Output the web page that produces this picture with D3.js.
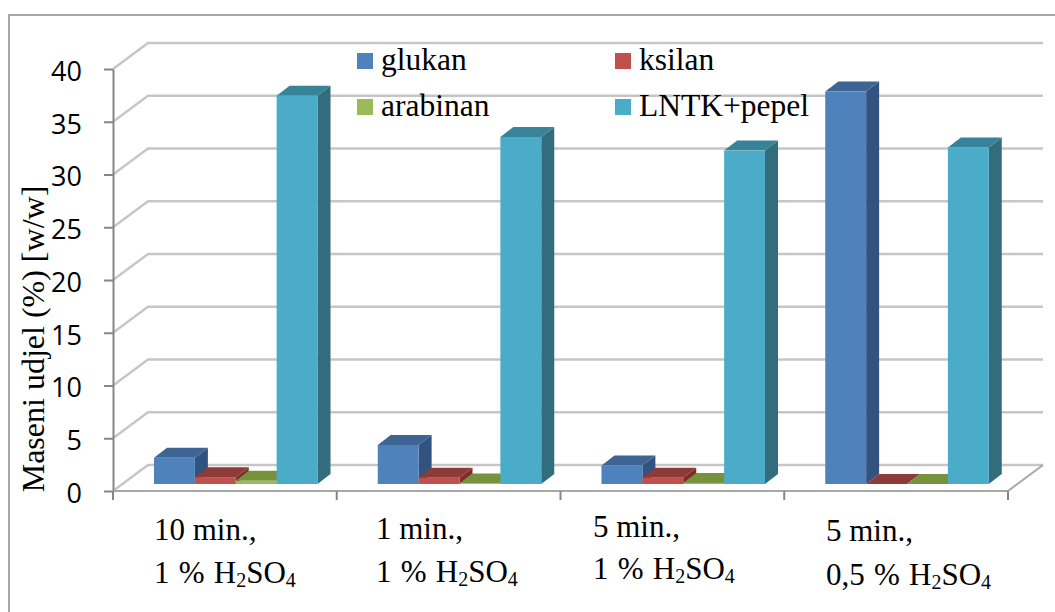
<!DOCTYPE html>
<html>

<head>
    <title>Maseni udjel</title>
    <script src="https://d3js.org/d3.v7.min.js" charset="utf-8"></script>
    <style>
        html, body { margin: 0; padding: 0; background: #fff; }
        svg { display: block; }
    </style>
</head>

<body>
    <script>
        var w = 1055;
        var h = 612;

        var categories = ["10 min.", "1 min.", "5 min. ", "5 min.  "];
        var acidLabels = ["1 % ", "1 % ", "1 % ", "0,5 % "];
        var seriesNames = ["glukan", "ksilan", "arabinan", "LNTK+pepel"];
        var glukan = [2.5, 3.7, 1.75, 37.2];
        var ksilan = [0.65, 0.6, 0.6, 0];
        var arabinan = [0.3, 0.05, 0.1, 0];
        var lntk = [36.8, 32.9, 31.6, 31.9];
        var yTicks = [0, 5, 10, 15, 20, 25, 30, 35, 40];

        var seriesValues = [glukan, ksilan, arabinan, lntk];
        var colors = [
            { front: "#4f81bd", side: "#325380", top: "#3e6494" },
            { front: "#c0504d", side: "#7a2f2d", top: "#8e3a38" },
            { front: "#9bbb59", side: "#5f7a30", top: "#76923c" },
            { front: "#4aacc8", side: "#316d7d", top: "#388397" }
        ];

        // 3d offsets of the chart box and of the bars
        var wallDx = 35, wallDy = -26;
        var barDx = 13, barDy = -10, barLift = 7;

        var svg = d3.select("body").append("svg").attr("width", w).attr("height", h);

        // only the top and left of the frame are inside the picture
        svg.append("rect")
            .attr("x", 9).attr("y", 15).attr("width", 1080).attr("height", 640)
            .attr("fill", "none").attr("stroke", "#a6a6a6").attr("stroke-width", 2);

        var y = d3.scaleLinear().domain([0, 40]).range([491, 69]);
        var x0 = d3.scaleBand().domain(categories).range([113, 1008]);
        var x1 = d3.scaleBand().domain(seriesNames).range([41, 204.5]);

        // back wall + side wall grid
        yTicks.forEach(function (t) {
            svg.append("path")
                .attr("d", d3.line()([[113, y(t)], [113 + wallDx, y(t) + wallDy], [1008 + wallDx, y(t) + wallDy]]))
                .attr("fill", "none").attr("stroke", "#c6c6c6").attr("stroke-width", 2.4);
        });
        svg.append("path")
            .attr("d", d3.line()([[1008, y(0)], [1008 + wallDx, y(0) + wallDy]]))
            .attr("fill", "none").attr("stroke", "#a8a8a8").attr("stroke-width", 2);

        function poly(points) {
            return d3.line()(points) + "Z";
        }

        // left to right so that each bar covers the side of the one before
        categories.forEach(function (cat, c) {
            seriesNames.forEach(function (name, s) {
                var v = seriesValues[s][c];
                var left = x0(cat) + x1(name);
                var right = left + x1.bandwidth();
                var top = y(v) - barLift;
                var bottom = y(0) - barLift;
                var col = colors[s];
                var g = svg.append("g");
                g.append("path")
                    .attr("d", poly([[right, top], [right + barDx, top + barDy], [right + barDx, bottom + barDy], [right, bottom]]))
                    .attr("fill", col.side);
                g.append("path")
                    .attr("d", poly([[left, top], [left + barDx, top + barDy], [right + barDx, top + barDy], [right, top]]))
                    .attr("fill", col.top);
                g.append("rect")
                    .attr("x", left).attr("y", top)
                    .attr("width", right - left).attr("height", bottom - top)
                    .attr("fill", col.front);
            });
        });

        // y axis
        var yAxis = svg.append("g")
            .attr("transform", "translate(113,0)")
            .call(d3.axisLeft(y).tickValues(yTicks).tickSize(9).tickSizeOuter(0).tickPadding(22));
        yAxis.selectAll("path, line").attr("stroke", "#868686").attr("stroke-width", 2);
        yAxis.selectAll("text")
            .attr("font-family", "Open Sans").attr("font-size", 27).attr("fill", "#000")
            .attr("dy", "0.42em");

        // x axis, ticks sit on the band edges
        svg.append("line")
            .attr("x1", 113).attr("x2", 1008).attr("y1", y(0)).attr("y2", y(0))
            .attr("stroke", "#a8a8a8").attr("stroke-width", 2);
        var edges = categories.map(function (c) { return x0(c); }).concat([x0.range()[1]]);
        svg.selectAll(".xtick").data(edges).enter().append("line")
            .attr("class", "xtick")
            .attr("x1", function (d) { return d; }).attr("x2", function (d) { return d; })
            .attr("y1", y(0)).attr("y2", y(0) + 9)
            .attr("stroke", "#868686").attr("stroke-width", 2);

        // category labels, they were placed by hand in the original
        var labelX = [154, 376, 593, 826];
        var labelY1 = [540, 539, 537, 541];
        var labelY2 = [583, 582, 579, 585];
        categories.forEach(function (cat, c) {
            svg.append("text").text(cat.trim() + ",")
                .attr("x", labelX[c]).attr("y", labelY1[c])
                .attr("font-family", "Liberation Serif").attr("font-size", 31);
            var t = svg.append("text")
                .attr("x", labelX[c]).attr("y", labelY2[c])
                .attr("font-family", "Liberation Serif").attr("font-size", 31)
                .attr("word-spacing", 1.5)
                .attr("xml:space", "preserve");
            t.append("tspan").text(acidLabels[c] + "H");
            t.append("tspan").text("2").attr("font-size", 20).attr("dy", 4);
            t.append("tspan").text("SO").attr("dy", -4);
            t.append("tspan").text("4").attr("font-size", 20).attr("dy", 4);
        });

        // y title
        svg.append("text").text("Maseni udjel (%) [w/w]")
            .attr("transform", "translate(44,339) rotate(-90)")
            .attr("text-anchor", "middle")
            .attr("font-family", "Liberation Serif").attr("font-size", 32);

        // legend
        var legendX = [357, 615];
        var legendY = [53, 99];
        seriesNames.forEach(function (name, i) {
            var lx = legendX[i % 2];
            var ly = legendY[Math.floor(i / 2)];
            svg.append("rect")
                .attr("x", lx).attr("y", ly).attr("width", 16).attr("height", 16)
                .attr("fill", colors[i].front);
            svg.append("text").text(name)
                .attr("x", lx + 24).attr("y", ly + 17)
                .attr("font-family", "Liberation Serif").attr("font-size", 31.5);
        });
    </script>
</body>

</html>
